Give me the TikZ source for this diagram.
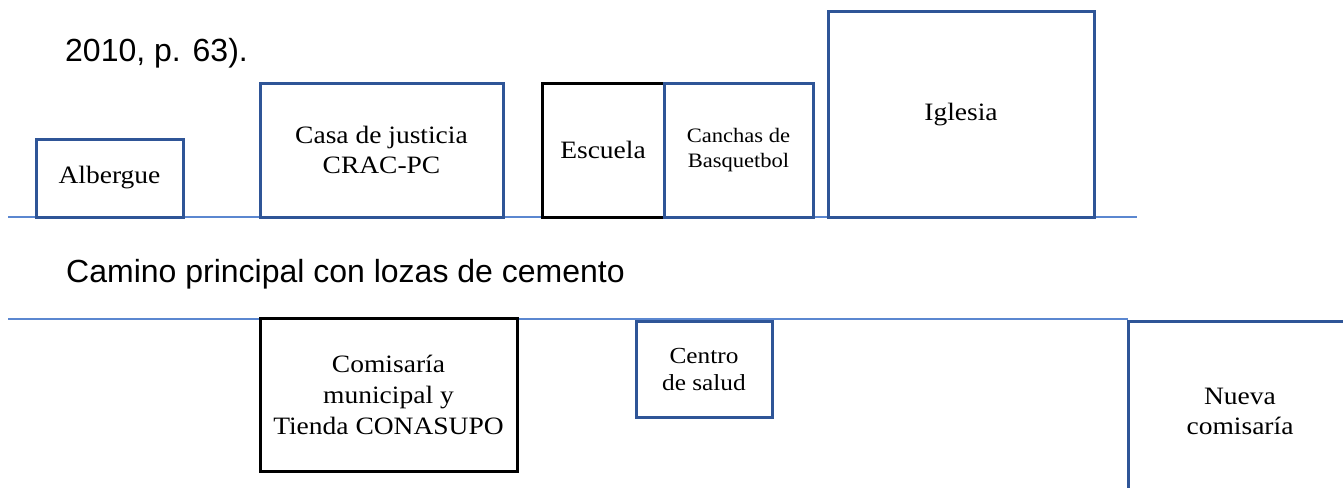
\documentclass[tikz,border=0pt]{standalone}
\usepackage{fontspec}
\setmainfont{Liberation Sans}
\newfontfamily\boxfont[FakeStretch=1.1]{Liberation Serif}
\definecolor{boxblue}{HTML}{2F5597}
\definecolor{roadblue}{HTML}{5B87D0}
\begin{document}
\begin{tikzpicture}[x=1pt,y=-1pt,
  bbox/.style={draw=boxblue,line width=3pt,inner sep=0pt,align=center,
    font=\boxfont\fontsize{25}{30}\selectfont},
  kbox/.style={bbox,draw=black},
  road/.style={draw=roadblue,line width=1.6pt},
  plain/.style={inner sep=0pt,anchor=base west,font=\fontsize{32}{38}\selectfont}]
\clip (0,0) rectangle (1343,487);
% roads
\coordinate (r1a) at (8,217);
\coordinate (r1b) at (1137,217);
\coordinate (r2a) at (8,319);
\coordinate (r2b) at (1128,319);
\draw[road] (r1a) -- (r1b);
\draw[road] (r2a) -- (r2b);
% texts
\node[plain] (cite) at (65,62) {2010, p. 63).};
\node[plain] (camino) at (66,282) {Camino principal con lozas de cemento};
% top row
\node[bbox, minimum width=147pt, minimum height=78pt] (alb) at (109.5,178) {Albergue};
\node[bbox, minimum width=243pt, minimum height=134pt] (casa) at (381.5,150) {Casa de justicia\\CRAC-PC};
\node[kbox, minimum width=122pt, minimum height=134pt] (esc) at (603,150) {Escuela};
\node[bbox, minimum width=149pt, minimum height=134pt, font=\boxfont\fontsize{20.5}{25}\selectfont] (can) at (738.5,150) {Canchas de\\Basquetbol};
\node[bbox, minimum width=266pt, minimum height=205pt] (igl) at (961,114.5) {Iglesia};
% bottom row
\node[kbox, minimum width=257pt, minimum height=153pt, font=\boxfont\fontsize{25}{31}\selectfont] (com) at (388.5,394.5) {Comisaría\\municipal y\\Tienda CONASUPO};
\node[bbox, minimum width=136pt, minimum height=96pt, font=\boxfont\fontsize{23}{27}\selectfont] (cen) at (704,369) {Centro\\de salud};
\node[bbox, minimum width=224pt, minimum height=180pt] (nue) at (1240,411) {Nueva\\comisaría};
\end{tikzpicture}
\end{document}
